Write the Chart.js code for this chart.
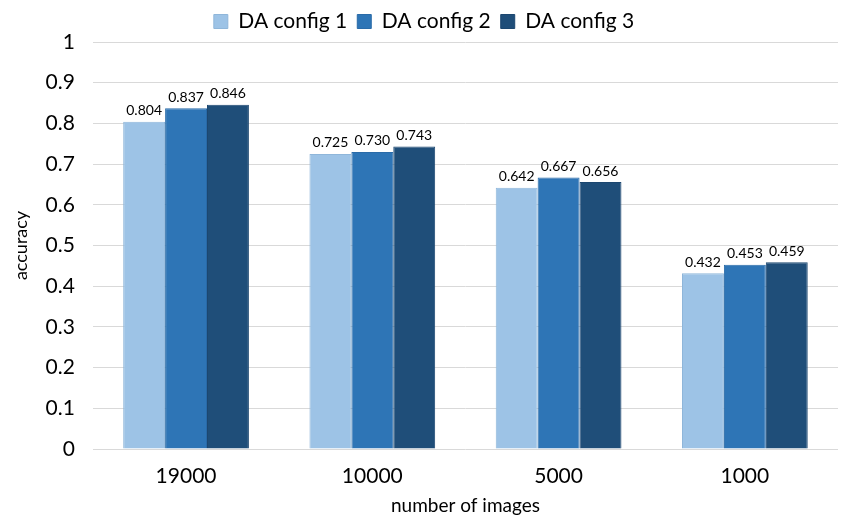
<!DOCTYPE html>
<html>
<head>
<meta charset="utf-8">
<script src="https://cdn.jsdelivr.net/npm/chart.js@4/dist/chart.umd.min.js"></script>
<style>
html,body{margin:0;padding:0;background:#fff;}
#wrap{width:841px;height:517px;}
</style>
</head>
<body>
<div id="wrap"><canvas id="c" width="841" height="517"></canvas></div>
<script>
const categories = ["19000", "10000", "5000", "1000"];
const config1 = [0.804, 0.725, 0.642, 0.432];
const config2 = [0.837, 0.730, 0.667, 0.453];
const config3 = [0.846, 0.743, 0.656, 0.459];
const seriesNames = ["DA config 1", "DA config 2", "DA config 3"];
const yTicks = [0, 0.1, 0.2, 0.3, 0.4, 0.5, 0.6, 0.7, 0.8, 0.9, 1];

const FONT = "Lato, 'Open Sans', sans-serif";

const labelPlugin = {
  id: 'barLabels',
  afterDatasetsDraw(chart) {
    const ctx = chart.ctx;
    ctx.save();
    ctx.font = "14px " + FONT;
    ctx.fillStyle = "#000";
    ctx.textAlign = "center";
    ctx.textBaseline = "bottom";
    chart.data.datasets.forEach((ds, i) => {
      const meta = chart.getDatasetMeta(i);
      meta.data.forEach((bar, j) => {
        ctx.fillText(ds.data[j].toFixed(3), bar.x, bar.y - 4);
      });
    });
    ctx.restore();
  }
};

new Chart(document.getElementById('c'), {
  type: 'bar',
  data: {
    labels: categories,
    datasets: [
      {label: seriesNames[0], data: config1, backgroundColor: '#9DC3E6', borderColor: '#8FB6DA', borderWidth: 1},
      {label: seriesNames[1], data: config2, backgroundColor: '#2E75B6', borderColor: '#2A6BA8', borderWidth: 1},
      {label: seriesNames[2], data: config3, backgroundColor: '#1F4E79', borderColor: '#1C4770', borderWidth: 1}
    ]
  },
  options: {
    responsive: false,
    animation: false,
    devicePixelRatio: 1,
    layout: {padding: {left: 10, right: 3, top: 1, bottom: 0}},
    categoryPercentage: 0.675,
    barPercentage: 1.0,
    plugins: {
      legend: {
        position: 'top',
        labels: {
          font: {family: FONT, size: 21},
          color: '#000',
          boxWidth: 14,
          boxHeight: 14,
          padding: 10
        }
      },
      tooltip: {enabled: false}
    },
    scales: {
      x: {
        grid: {display: false, drawTicks: false},
        border: {display: false},
        ticks: {font: {family: FONT, size: 21}, color: '#000', padding: 15},
        title: {display: true, text: 'number of images', font: {family: FONT, size: 19}, color: '#000', padding: {top: -10, bottom: 0}}
      },
      y: {
        min: 0, max: 1,
        afterBuildTicks(axis) { axis.ticks = yTicks.map(v => ({value: v})); },
        grid: {color: '#D9D9D9', drawTicks: false, lineWidth: 1},
        border: {display: false},
        ticks: {font: {family: FONT, size: 21}, color: '#000', padding: 18,
          callback: v => String(v)},
        title: {display: true, text: 'accuracy', font: {family: FONT, size: 18}, color: '#000', padding: {top: 0, bottom: -4}}
      }
    }
  },
  plugins: [labelPlugin]
});
</script>
</body>
</html>
